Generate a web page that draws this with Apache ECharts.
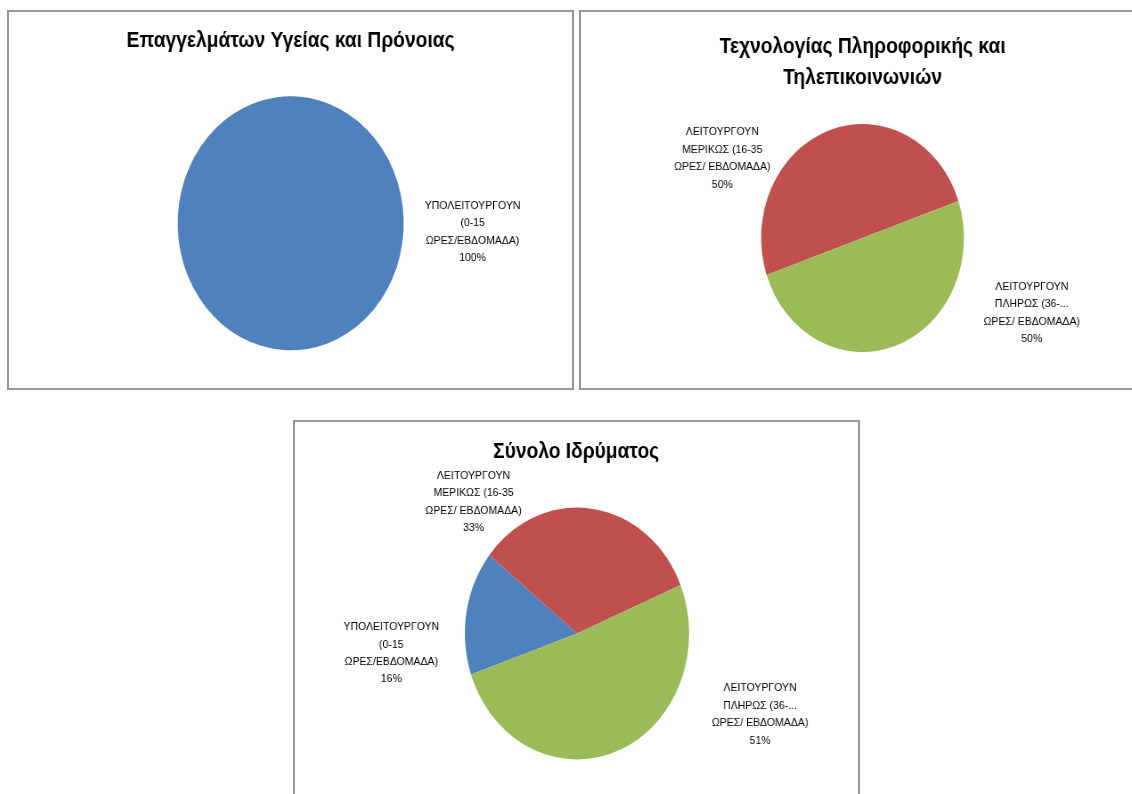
<!DOCTYPE html>
<html>
<head>
<meta charset="utf-8">
<script src="https://cdn.jsdelivr.net/npm/echarts@6/dist/echarts.min.js"></script>
<style>
  html, body { margin: 0; padding: 0; background: #fff; width: 1132px; height: 794px; overflow: hidden; position: relative; }
  .chart { position: absolute; transform-origin: 0 0; }
  .frame { position: absolute; box-sizing: border-box; border: 2px solid #979797; pointer-events: none; }
</style>
</head>
<body>
<div class="chart" id="c1"></div>
<div class="chart" id="c2"></div>
<div class="chart" id="c3"></div>
<div class="frame" style="left:7px;top:10px;width:567px;height:380px"></div>
<div class="frame" style="left:579px;top:10px;width:567px;height:380px"></div>
<div class="frame" style="left:293px;top:420px;width:567px;height:390px"></div>
<script>
// ---- data ----
const categories = [
  'ΥΠΟΛΕΙΤΟΥΡΓΟΥΝ (0-15 ΩΡΕΣ/ΕΒΔΟΜΑΔΑ)',
  'ΛΕΙΤΟΥΡΓΟΥΝ ΜΕΡΙΚΩΣ (16-35 ΩΡΕΣ/ ΕΒΔΟΜΑΔΑ)',
  'ΛΕΙΤΟΥΡΓΟΥΝ ΠΛΗΡΩΣ (36-... ΩΡΕΣ/ ΕΒΔΟΜΑΔΑ)'
];
const categoryLabelLines = [
  ['ΥΠΟΛΕΙΤΟΥΡΓΟΥΝ', '(0-15', 'ΩΡΕΣ/ΕΒΔΟΜΑΔΑ)'],
  ['ΛΕΙΤΟΥΡΓΟΥΝ', 'ΜΕΡΙΚΩΣ (16-35', 'ΩΡΕΣ/ ΕΒΔΟΜΑΔΑ)'],
  ['ΛΕΙΤΟΥΡΓΟΥΝ', 'ΠΛΗΡΩΣ (36-...', 'ΩΡΕΣ/ ΕΒΔΟΜΑΔΑ)']
];
const healthValues = [100, 0, 0];
const ictValues = [0, 50, 50];
const totalValues = [16, 33, 51];
const titles = [
  'Επαγγελμάτων Υγείας και Πρόνοιας',
  'Τεχνολογίας Πληροφορικής και\nΤηλεπικοινωνιών',
  'Σύνολο Ιδρύματος'
];

// ---- style ----
const colors = ['#4F81BD', '#C0504D', '#9BBB59'];
const SX = 0.89; // horizontal squeeze of the original picture
const panels = [
  { id: 'c1', left: 8,   top: 11,  w: 565, h: 378, values: healthValues, title: titles[0],
    center: [317.6, 212.3], r: 127, titleTop: 10,
    offsets: [[84.3, 49.6], [0, 0], [0, 0]] },
  { id: 'c2', left: 580, top: 11,  w: 565, h: 378, values: ictValues, title: titles[1],
    center: [317.4, 227], r: 114, titleTop: 16,
    offsets: [[0, 0], [-120.4, 28.1], [153.1, -33.2]] },
  { id: 'c3', left: 294, top: 421, w: 564, h: 380, values: totalValues, title: titles[2],
    center: [318, 212.5], r: 126, titleTop: 11,
    offsets: [[-84.5, 40.9], [-133.8, -7.1], [160.9, -37]] }
];

panels.forEach(function (p) {
  const el = document.getElementById(p.id);
  el.style.left = p.left + 'px';
  el.style.top = p.top + 'px';
  el.style.width = (p.w / SX) + 'px';
  el.style.height = p.h + 'px';
  el.style.transform = 'scaleX(' + SX + ')';
  const chart = echarts.init(el, null, { renderer: 'canvas' });
  const data = categories.map(function (name, i) {
    return {
      name: name,
      value: p.values[i],
      itemStyle: { color: colors[i] },
      label: { show: p.values[i] > 0 }
    };
  });
  chart.setOption({
    animation: false,
    backgroundColor: 'transparent',
    title: {
      text: p.title,
      left: 'center',
      top: p.titleTop,
      textStyle: {
        fontFamily: 'Liberation Sans',
        fontWeight: 'bold',
        fontSize: 21.6,
        lineHeight: 30.5,
        color: '#000'
      }
    },
    series: [{
      type: 'pie',
      center: p.center,
      radius: p.r,
      startAngle: 199,
      clockwise: true,
      avoidLabelOverlap: false,
      itemStyle: { borderWidth: 0 },
      emphasis: { disabled: true },
      label: {
        position: 'outside',
        distanceToLabelLine: 0,
        fontFamily: 'Liberation Sans',
        fontSize: 11.8,
        lineHeight: 17.4,
        color: '#000',
        formatter: function (params) {
          return categoryLabelLines[params.dataIndex].join('\n') + '\n' + params.percent + '%';
        }
      },
      labelLine: { show: false, length: 0, length2: 0 },
      labelLayout: function (params) {
        const o = p.offsets[params.dataIndex];
        return { align: 'center', dx: o[0], dy: o[1] };
      },
      data: data
    }]
  });
});
</script>
</body>
</html>
